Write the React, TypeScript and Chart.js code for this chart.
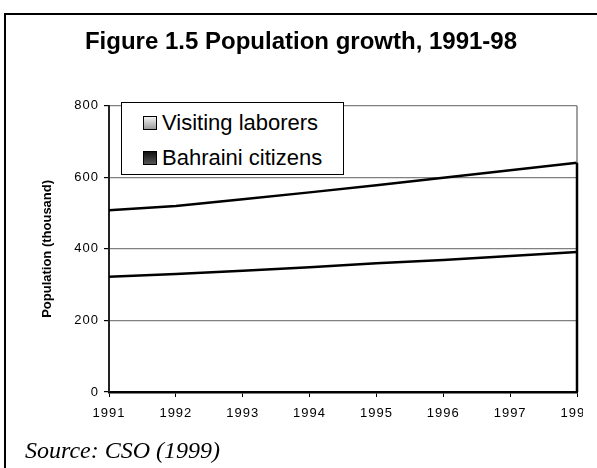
import React, { useEffect, useRef } from "react";
import { Chart, registerables } from "chart.js";

Chart.register(...registerables);

const years = ["1991", "1992", "1993", "1994", "1995", "1996", "1997", "1998"];
const citizens = [322, 330, 339, 349, 360, 369, 380, 391];
const visiting = [186, 190, 200, 209, 218, 230, 240, 250];
const seriesNames = ["Visiting laborers", "Bahraini citizens"];
const yTicks = [0, 200, 400, 600, 800];
const titleText = "Figure 1.5 Population growth, 1991-98";
const yTitle = "Population (thousand)";
const sourceText = "Source: CSO (1999)";

const FONT = "'Liberation Sans', Arial, sans-serif";

const rightEdge = {
  id: "rightEdge",
  afterDatasetsDraw(chart: any) {
    const { ctx, chartArea, scales } = chart;
    const last = years.length - 1;
    const x = scales.x.getPixelForValue(last);
    const total = citizens[last] + visiting[last];
    const yTop = scales.y.getPixelForValue(total);
    ctx.save();
    ctx.strokeStyle = "#808080";
    ctx.lineWidth = 1.5;
    ctx.beginPath();
    ctx.moveTo(x, chartArea.top);
    ctx.lineTo(x, yTop);
    ctx.stroke();
    ctx.strokeStyle = "#000";
    ctx.lineWidth = 2.5;
    ctx.beginPath();
    ctx.moveTo(x, yTop);
    ctx.lineTo(x, chartArea.bottom);
    ctx.stroke();
    ctx.restore();
    // tick labels (drawn after datasets, z = 1) get wide letter spacing
    ctx.letterSpacing = "1px";
  },
  afterDraw(chart: any) {
    chart.ctx.letterSpacing = "0px";
  },
};

export default function App() {
  const ref = useRef<HTMLCanvasElement | null>(null);
  useEffect(() => {
    document.body.style.margin = "0";
    document.body.style.overflow = "hidden";
    const chart = new Chart(ref.current as HTMLCanvasElement, {
      type: "line",
      data: {
        labels: years,
        datasets: [
          {
            label: seriesNames[1],
            data: citizens,
            borderColor: "#000",
            borderWidth: 2.5,
            pointRadius: 0,
            fill: false,
            tension: 0,
          },
          {
            label: seriesNames[0],
            data: visiting,
            borderColor: "#000",
            borderWidth: 2.5,
            pointRadius: 0,
            fill: false,
            tension: 0,
          },
        ],
      },
      options: {
        animation: false,
        responsive: false,
        devicePixelRatio: 1,
        layout: { padding: { left: 25, right: 43, top: 0, bottom: 0 } },
        plugins: {
          legend: { display: false },
          tooltip: { enabled: false },
          title: {
            display: true,
            text: titleText,
            color: "#000",
            font: { family: FONT, size: 24, weight: "bold" },
            padding: { top: 28, bottom: 49 },
          },
        },
        scales: {
          x: {
            offset: false,
            grid: { display: true, drawOnChartArea: false, tickColor: "#000", tickLength: 5, lineWidth: 1 },
            border: { color: "#000", width: 2.5 },
            ticks: { z: 1, color: "#000", font: { family: FONT, size: 13 }, padding: 9, maxRotation: 0, autoSkip: false },
            afterFit: (s: any) => {
              s.height = 76;
            },
          },
          y: {
            stacked: true,
            min: yTicks[0],
            max: yTicks[yTicks.length - 1],
            afterBuildTicks: (s: any) => {
              s.ticks = yTicks.map((v) => ({ value: v }));
            },
            grid: { color: "#808080", tickColor: "#000", tickLength: 5, lineWidth: 1.2 },
            border: { color: "#222", width: 2 },
            ticks: { z: 1, color: "#000", font: { family: FONT, size: 13 }, padding: 5 },
            title: {
              display: true,
              text: yTitle,
              color: "#000",
              font: { family: FONT, size: 13, weight: "bold" },
              padding: { top: 15, bottom: 0 },
            },
            afterFit: (s: any) => {
              s.width = 84;
            },
          },
        },
      },
      plugins: [rightEdge],
    });
    return () => chart.destroy();
  }, []);

  const swatches = [
    { name: seriesNames[0], bg: "linear-gradient(#f2f2f2, #9a9a9a)" },
    { name: seriesNames[1], bg: "linear-gradient(#111, #555)" },
  ];

  return (
    <div style={{ position: "relative", width: 597, height: 468, overflow: "hidden", background: "#fff" }}>
      <div
        style={{
          position: "absolute",
          left: 4,
          top: 13,
          width: 800,
          height: 800,
          border: "2px solid #000",
          boxSizing: "border-box",
        }}
      />
      <div style={{ position: "absolute", left: 0, top: 0, width: 583, height: 468, overflow: "hidden" }}>
        <canvas ref={ref} width={620} height={468} style={{ position: "absolute", left: 0, top: 0, width: 620, height: 468 }} />
      </div>
      <div
        style={{
          position: "absolute",
          left: 121,
          top: 102,
          width: 223,
          height: 73,
          border: "1px solid #000",
          background: "#fff",
          boxSizing: "border-box",
          fontFamily: FONT,
          fontSize: 22,
          color: "#000",
        }}
      >
        {swatches.map((s, i) => (
          <div
            key={s.name}
            style={{ position: "absolute", left: 21, top: 7 + i * 35, height: 26, display: "flex", alignItems: "center", whiteSpace: "nowrap" }}
          >
            <span
              style={{
                display: "inline-block",
                width: 14,
                height: 14,
                boxSizing: "border-box",
                border: "1.5px solid #000",
                background: s.bg,
                marginRight: 5,
              }}
            />
            <span style={{ lineHeight: "26px" }}>{s.name}</span>
          </div>
        ))}
      </div>
      <div
        style={{
          position: "absolute",
          left: 25,
          top: 438,
          fontFamily: "'Liberation Serif', 'Times New Roman', serif",
          fontStyle: "italic",
          fontSize: 24,
          lineHeight: 1,
          color: "#000",
          whiteSpace: "nowrap",
        }}
      >
        {sourceText}
      </div>
    </div>
  );
}
